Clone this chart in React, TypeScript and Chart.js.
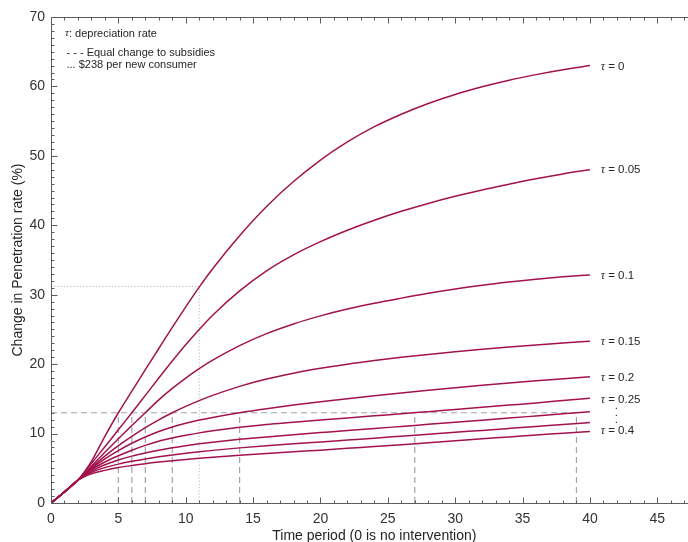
import React, { useEffect, useRef } from "react";
import { Chart, registerables } from "chart.js";

Chart.register(...registerables);

// ---------- data ----------
const TIME = [0, 1, 2, 3, 4, 5, 6, 7, 8, 9, 10, 11, 12, 14, 16, 18, 20, 22, 24, 26, 28, 30, 32, 34, 36, 38, 40];

const TAU_LABELS = ["0", "0.05", "0.1", "0.15", "0.2", "0.25", "0.3", "0.35", "0.4"];

const TAU_0 = [0, 1.6, 3.3, 6.0, 9.6, 13.0, 16.1, 19.2, 22.25, 25.3, 28.25, 31.1, 33.75, 38.5, 42.7, 46.3, 49.4, 52.0, 54.2, 56.0, 57.55, 58.85, 59.95, 60.9, 61.7, 62.4, 63.0];
const TAU_005 = [0, 1.6, 3.3, 5.7, 8.1, 10.55, 13.0, 15.5, 18.0, 20.45, 22.8, 25.0, 27.05, 30.55, 33.45, 35.75, 37.65, 39.29, 40.73, 42.01, 43.15, 44.17, 45.09, 45.91, 46.7, 47.4, 48.0];
const TAU_01 = [0, 1.6, 3.3, 5.3, 7.3, 9.25, 11.15, 13.0, 14.85, 16.5, 18.0, 19.35, 20.57, 22.67, 24.39, 25.79, 26.95, 27.93, 28.77, 29.51, 30.21, 30.83, 31.37, 31.83, 32.23, 32.57, 32.85];
const TAU_015 = [0, 1.6, 3.3, 5.1, 6.75, 8.25, 9.6, 10.85, 11.98, 13.0, 13.92, 14.75, 15.5, 16.8, 17.85, 18.7, 19.4, 20.0, 20.52, 20.98, 21.4, 21.78, 22.13, 22.46, 22.76, 23.04, 23.3];
const TAU_02 = [0, 1.6, 3.3, 4.95, 6.35, 7.55, 8.6, 9.5, 10.3, 10.95, 11.5, 11.95, 12.33, 13.0, 13.58, 14.1, 14.58, 15.03, 15.45, 15.85, 16.23, 16.6, 16.95, 17.28, 17.6, 17.9, 18.2];
const TAU_025 = [0, 1.6, 3.3, 4.8, 5.9, 6.8, 7.6, 8.3, 8.9, 9.35, 9.75, 10.1, 10.4, 10.9, 11.3, 11.62, 11.94, 12.25, 12.55, 12.85, 13.16, 13.47, 13.78, 14.1, 14.42, 14.76, 15.1];
const TAU_03 = [0, 1.6, 3.3, 4.6, 5.5, 6.2, 6.75, 7.2, 7.6, 7.95, 8.25, 8.52, 8.76, 9.17, 9.52, 9.84, 10.14, 10.44, 10.73, 11.03, 11.33, 11.63, 11.93, 12.23, 12.54, 12.85, 13.16];
const TAU_035 = [0, 1.6, 3.3, 4.4, 5.1, 5.6, 6.0, 6.35, 6.65, 6.92, 7.16, 7.38, 7.58, 7.94, 8.26, 8.54, 8.8, 9.07, 9.34, 9.62, 9.9, 10.18, 10.46, 10.74, 11.02, 11.3, 11.6];
const TAU_04 = [0, 1.6, 3.3, 4.2, 4.7, 5.1, 5.4, 5.67, 5.9, 6.1, 6.28, 6.45, 6.6, 6.88, 7.14, 7.38, 7.6, 7.87, 8.13, 8.4, 8.68, 8.96, 9.24, 9.52, 9.8, 10.05, 10.3];

const SERIES = [TAU_0, TAU_005, TAU_01, TAU_015, TAU_02, TAU_025, TAU_03, TAU_035, TAU_04];

// reference lines
const EQUAL_LEVEL = 13;
const SUBSIDY_TIMES = [5, 6, 7, 9, 14, 27, 39];
const DOLLAR_TIME = 11;
const DOLLAR_LEVEL = 31.2;

// right-hand labels (shown labels and their heights)
const LABEL_TAUS = ["0", "0.05", "0.1", "0.15", "0.2", "0.25", "0.4"];
const LABEL_Y = [62.8, 48, 32.7, 23.2, 18.0, 14.9, 10.4];
const DOTS_Y = [13.7, 12.7, 11.7];
const LABEL_X = 40.8;

const X_MIN = 0;
const X_MAX = 48;
const Y_MIN = 0;
const Y_MAX = 70;

// ---------- style ----------
const CURVE_COLOR = "rgb(162,19,78)";
const AXIS_COLOR = "#5c5c5c";
const TEXT_COLOR = "#262626";
const SANS = "'Liberation Sans', Arial, Helvetica, sans-serif";
const SERIF = "'Liberation Serif', 'Times New Roman', serif";

const framePlugin = {
  id: "frameAndNotes",
  afterDatasetsDraw(chart: any) {
    const { ctx, chartArea: a, scales } = chart;
    const x = scales.x;
    const y = scales.y;
    ctx.save();
    ctx.strokeStyle = AXIS_COLOR;
    ctx.lineWidth = 1;
    ctx.setLineDash([]);
    const L = Math.round(a.left) + 0.5;
    const R = Math.round(a.right) + 0.5;
    const T = Math.round(a.top) + 0.5;
    const B = Math.round(a.bottom) + 0.5;
    ctx.beginPath();
    ctx.rect(L, T, R - L, B - T);
    for (let v = Math.ceil(X_MIN); v <= X_MAX; v += 1) {
      const px = Math.round(x.getPixelForValue(v)) + 0.5;
      const len = v % 5 === 0 ? 6 : 3;
      ctx.moveTo(px, B);
      ctx.lineTo(px, B - len);
      ctx.moveTo(px, T);
      ctx.lineTo(px, T + len);
    }
    for (let v = Y_MIN; v <= Y_MAX; v += 1) {
      const py = Math.round(y.getPixelForValue(v)) + 0.5;
      const len = v % 10 === 0 ? 6 : 3;
      ctx.moveTo(L, py);
      ctx.lineTo(L + len, py);
      ctx.moveTo(R, py);
      ctx.lineTo(R - len, py);
    }
    ctx.stroke();

    // right-hand tau labels
    ctx.fillStyle = TEXT_COLOR;
    ctx.textBaseline = "middle";
    ctx.textAlign = "left";
    const lx = x.getPixelForValue(LABEL_X);
    LABEL_TAUS.forEach((t, i) => {
      const py = y.getPixelForValue(LABEL_Y[i]);
      ctx.font = `italic 12px ${SERIF}`;
      ctx.fillText("τ", lx, py);
      const w = ctx.measureText("τ").width;
      ctx.font = `11.5px ${SANS}`;
      ctx.fillText(" = " + t, lx + w, py);
    });
    ctx.font = `11.5px ${SANS}`;
    DOTS_Y.forEach((v) => {
      const py = y.getPixelForValue(v);
      ctx.fillText(".", lx + 14, py - 2);
    });

    // top-left notes
    const nx = a.left + 14;
    ctx.font = `italic 11px ${SERIF}`;
    ctx.fillText("τ", nx, a.top + 16.5);
    const tw = ctx.measureText("τ").width;
    ctx.font = `11px ${SANS}`;
    ctx.fillText(": depreciation rate", nx + tw, a.top + 16.5);
    ctx.fillText("- - - Equal change to subsidies", nx + 1.5, a.top + 36);
    ctx.fillText("... $238 per new consumer", nx + 1.5, a.top + 47.5);
    ctx.restore();
  },
};

export default function App() {
  const ref = useRef<HTMLCanvasElement | null>(null);

  useEffect(() => {
    if (!ref.current) return;
    const curves = SERIES.map((vals, i) => ({
      label: "τ = " + TAU_LABELS[i],
      data: TIME.map((t, j) => ({ x: t, y: vals[j] })),
      borderColor: CURVE_COLOR,
      backgroundColor: CURVE_COLOR,
      borderWidth: 1.5,
      pointRadius: 0,
      fill: false,
      cubicInterpolationMode: "monotone" as const,
    }));
    const dashStyle = {
      borderColor: "#a3a3a3",
      borderWidth: 1.2,
      borderDash: [6, 4],
      pointRadius: 0,
      fill: false,
      tension: 0,
    };
    const equalH = {
      ...dashStyle,
      label: "equal",
      data: [
        { x: 0, y: EQUAL_LEVEL },
        { x: SUBSIDY_TIMES[SUBSIDY_TIMES.length - 1], y: EQUAL_LEVEL },
      ],
    };
    const equalV = SUBSIDY_TIMES.map((t) => ({
      ...dashStyle,
      label: "sub" + t,
      data: [
        { x: t, y: 0 },
        { x: t, y: EQUAL_LEVEL },
      ],
    }));
    const dotted = {
      label: "dollar",
      borderColor: "#b8b8b8",
      borderWidth: 1,
      borderDash: [1.2, 2],
      pointRadius: 0,
      fill: false,
      tension: 0,
      data: [
        { x: 0, y: DOLLAR_LEVEL },
        { x: DOLLAR_TIME, y: DOLLAR_LEVEL },
        { x: DOLLAR_TIME, y: 0 },
      ],
    };

    const chart = new Chart(ref.current, {
      type: "line",
      data: { datasets: [...curves, equalH, ...equalV, dotted] as any },
      options: {
        animation: false,
        responsive: false,
        devicePixelRatio: 1,
        layout: { padding: { top: 17, right: 8.3, left: 0, bottom: 0 } },
        plugins: { legend: { display: false }, tooltip: { enabled: false } },
        scales: {
          x: {
            type: "linear",
            min: X_MIN,
            max: X_MAX,
            grid: { display: false, drawTicks: false, tickLength: 0 },
            border: { display: false },
            ticks: {
              stepSize: 5,
              includeBounds: false,
              padding: 8,
              color: "#333",
              font: { size: 14, family: SANS },
              maxRotation: 0,
              autoSkip: false,
            },
            title: {
              display: true,
              text: "Time period (0 is no intervention)",
              color: TEXT_COLOR,
              font: { size: 14, family: SANS },
              padding: { top: 0, bottom: 15.6 },
            },
            afterFit: (s: any) => {
              s.height = 57;
            },
          },
          y: {
            type: "linear",
            min: Y_MIN,
            max: Y_MAX,
            grid: { display: false, drawTicks: false, tickLength: 0 },
            border: { display: false },
            ticks: {
              stepSize: 10,
              padding: 6,
              color: "#333",
              font: { size: 14, family: SANS },
            },
            title: {
              display: true,
              text: "Change in Penetration rate (%)",
              color: TEXT_COLOR,
              font: { size: 14, family: SANS },
              padding: { top: 10, bottom: 0 },
            },
            afterFit: (s: any) => {
              s.width = 51;
            },
          },
        },
      },
      plugins: [framePlugin],
    });
    return () => chart.destroy();
  }, []);

  return (
    <div
      style={{
        position: "fixed",
        left: 0,
        top: 0,
        width: 688,
        height: 542,
        overflow: "hidden",
        background: "#fff",
      }}
    >
      <canvas ref={ref} width={706} height={560} style={{ display: "block" }} />
    </div>
  );
}
